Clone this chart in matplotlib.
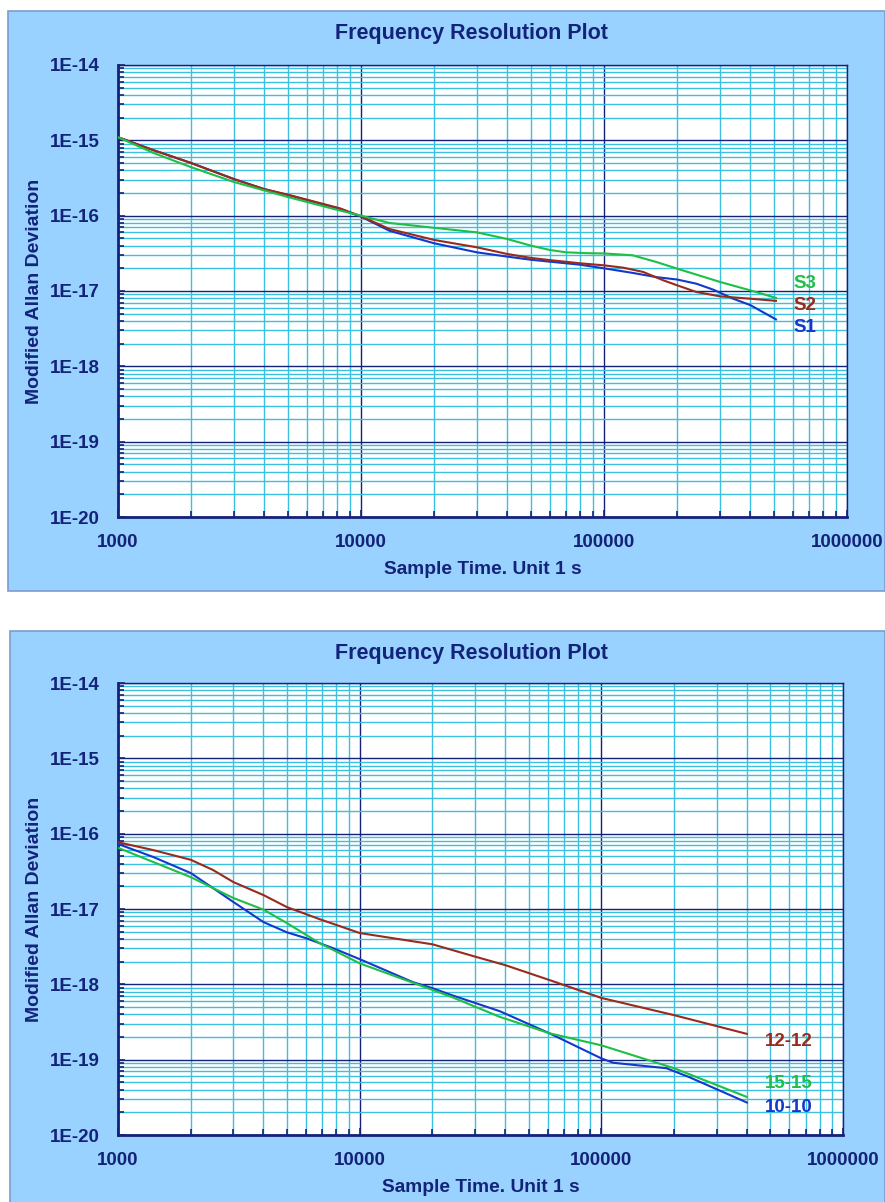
import matplotlib
matplotlib.use('Agg')
import matplotlib.pyplot as plt
from matplotlib.patches import Rectangle
from matplotlib.ticker import LogLocator, FixedLocator, NullFormatter

plt.rcParams['font.family'] = ['Liberation Sans', 'DejaVu Sans']

# top chart
S1_x = [1000, 1400, 2000, 3000, 4000, 5000, 8200, 10000, 13100, 20000, 30000, 40000, 50000,
        60000, 80000, 100000, 131000, 164000, 200000, 240000, 282000, 340000, 400000, 510000]
S1_y = [1.1e-15, 7.4e-16, 5.0e-16, 3.06e-16, 2.25e-16, 1.88e-16, 1.23e-16, 9.7e-17, 6.3e-17,
        4.3e-17, 3.26e-17, 2.86e-17, 2.6e-17, 2.45e-17, 2.23e-17, 2.0e-17, 1.74e-17, 1.53e-17,
        1.42e-17, 1.25e-17, 1.04e-17, 7.9e-18, 6.5e-18, 4.2e-18]
S2_x = [1000, 1400, 2000, 3000, 4000, 5000, 8200, 10000, 13100, 20000, 30000, 40000, 50000,
        60000, 80000, 100000, 120000, 145000, 175000, 200000, 240000, 300000, 400000, 510000]
S2_y = [1.1e-15, 7.4e-16, 5.0e-16, 3.06e-16, 2.25e-16, 1.9e-16, 1.25e-16, 9.8e-17, 6.65e-17,
        4.76e-17, 3.8e-17, 3.1e-17, 2.75e-17, 2.57e-17, 2.33e-17, 2.19e-17, 2.04e-17,
        1.79e-17, 1.39e-17, 1.19e-17, 9.7e-18, 8.5e-18, 7.9e-18, 7.4e-18]
S3_x = [1000, 1400, 2000, 3000, 5000, 7700, 10000, 13100, 20000, 30000, 40000, 50000, 60000,
        70000, 85000, 100000, 131000, 164000, 200000, 300000, 400000, 510000]
S3_y = [1.1e-15, 6.8e-16, 4.4e-16, 2.8e-16, 1.77e-16, 1.23e-16, 1.0e-16, 8.0e-17, 6.9e-17,
        6.0e-17, 4.9e-17, 4.0e-17, 3.5e-17, 3.26e-17, 3.18e-17, 3.15e-17, 2.98e-17, 2.43e-17,
        1.98e-17, 1.32e-17, 1.02e-17, 8.1e-18]

# bottom chart
T12_x = [1000, 1400, 2000, 2470, 3000, 4000, 5000, 6850, 10000, 13700, 20000, 30500, 40000,
         61000, 100000, 200000, 400000]
T12_y = [7.7e-17, 6.05e-17, 4.5e-17, 3.3e-17, 2.28e-17, 1.53e-17, 1.06e-17, 7.3e-18, 4.8e-18,
         4.1e-18, 3.4e-18, 2.3e-18, 1.8e-18, 1.14e-18, 6.6e-19, 3.9e-19, 2.2e-19]
T10_x = [1000, 1400, 2000, 2470, 3000, 4000, 5000, 6000, 7800, 10000, 16600, 20000, 24000,
         38000, 61000, 100000, 112000, 128000, 186000, 230000, 400000]
T10_y = [7.3e-17, 4.9e-17, 3.0e-17, 1.9e-17, 1.24e-17, 6.7e-18, 4.9e-18, 4.1e-18, 3.0e-18,
         2.16e-18, 1.07e-18, 8.9e-19, 7.2e-19, 4.4e-19, 2.24e-19, 1.04e-19, 9.1e-20, 8.7e-20,
         7.7e-20, 5.9e-20, 2.7e-20]
T15_x = [1000, 1400, 2000, 2470, 3000, 4000, 5000, 6850, 10000, 16600, 24000, 38000, 61000,
         100000, 200000, 400000]
T15_y = [6.5e-17, 4.2e-17, 2.65e-17, 1.9e-17, 1.4e-17, 9.8e-18, 6.5e-18, 3.5e-18, 1.9e-18,
         1.05e-18, 6.8e-19, 3.7e-19, 2.24e-19, 1.55e-19, 7.7e-20, 3.2e-20]

x_ticks = [1e3, 1e4, 1e5, 1e6]
x_labels = ['1000', '10000', '100000', '1000000']
y_ticks = [1e-20, 1e-19, 1e-18, 1e-17, 1e-16, 1e-15, 1e-14]
y_labels = ['1E-20', '1E-19', '1E-18', '1E-17', '1E-16', '1E-15', '1E-14']

title = 'Frequency Resolution Plot'
xlab = 'Sample Time. Unit 1 s'
ylab = 'Modified Allan Deviation'

navy = '#14237a'
minor_c = '#3cc0e0'
panel_c = '#99d1ff'
blue = '#1438cc'
brown = '#9a2a1c'
green = '#1fbf45'

W, H = 885, 1202
fig = plt.figure(figsize=(W / 100, H / 100), dpi=100)


def panel(px0, py0, px1, py1, ax_box, series, labels):
    # background box in pixel coords (y from top)
    fig.patches.append(Rectangle((px0 / W, 1 - py1 / H), (px1 - px0) / W, (py1 - py0) / H,
                                 transform=fig.transFigure, facecolor=panel_c,
                                 edgecolor='#7d9ccc', linewidth=1.2, zorder=-10))
    l, t, r, b = ax_box
    ax = fig.add_axes([l / W, 1 - b / H, (r - l) / W, (b - t) / H])
    ax.set_facecolor('white')
    ax.set_xscale('log')
    ax.set_yscale('log')
    ax.set_xlim(1e3, 1e6)
    ax.set_ylim(1e-20, 1e-14)
    ax.xaxis.set_major_locator(FixedLocator(x_ticks))
    ax.yaxis.set_major_locator(FixedLocator(y_ticks))
    ax.xaxis.set_minor_locator(LogLocator(base=10, subs=range(2, 10), numticks=20))
    ax.yaxis.set_minor_locator(LogLocator(base=10, subs=range(2, 10), numticks=20))
    ax.xaxis.set_minor_formatter(NullFormatter())
    ax.yaxis.set_minor_formatter(NullFormatter())
    ax.set_xticklabels(x_labels)
    ax.set_yticklabels(y_labels)
    ax.grid(which='minor', color=minor_c, linewidth=1.0)
    ax.grid(which='major', color=navy, linewidth=1.0)
    ax.set_axisbelow(True)
    ax.tick_params(which='both', direction='in', color=navy, width=1.2)
    ax.tick_params(which='major', length=5)
    ax.tick_params(which='minor', length=4)
    ax.tick_params(axis='x', which='major', pad=12, labelsize=13.5, labelcolor=navy)
    ax.tick_params(axis='y', which='major', pad=13, labelsize=13.5, labelcolor=navy)
    for lab in ax.get_xticklabels() + ax.get_yticklabels():
        lab.set_fontweight('bold')
    for s in ax.spines.values():
        s.set_color(navy)
        s.set_linewidth(1.0)
    ax.spines['left'].set_linewidth(2.0)
    ax.spines['bottom'].set_linewidth(2.0)
    for (xs, ys, c) in series:
        ax.plot(xs, ys, color=c, linewidth=1.5, zorder=3)
    # series names, placed by pixel position inside the axes
    for (txt, lx, ly, c) in labels:
        ax.text((lx - l) / (r - l), (b - ly) / (b - t), txt, transform=ax.transAxes,
                color=c, fontsize=13.5, fontweight='bold', ha='left', va='center',
                zorder=6, clip_on=False)
    fig.text(471 / W, 1 - (py0 + 22) / H, title, color=navy, fontsize=15.5,
             fontweight='bold', ha='center', va='center')
    fig.text((l + r) / 2 / W, 1 - (b + 52) / H, xlab, color=navy, fontsize=13.8,
             fontweight='bold', ha='center', va='center')
    fig.text(35 / W, 1 - (t + b) / 2 / H, ylab, color=navy, fontsize=14,
             fontweight='bold', ha='center', va='center', rotation=90)
    return ax


panel(8, 11, 885, 591, (118, 65, 847, 517),
      [(S1_x, S1_y, blue), (S2_x, S2_y, brown), (S3_x, S3_y, green)],
      [('S3', 793, 283, green), ('S2', 793, 305, brown), ('S1', 793, 327, blue)])

panel(10, 631, 885, 1205, (118, 683, 843, 1135),
      [(T12_x, T12_y, brown), (T10_x, T10_y, blue), (T15_x, T15_y, green)],
      [('12-12', 765, 1041, brown), ('15-15', 765, 1084, green), ('10-10', 765, 1107, blue)])

fig.savefig('out.png', dpi=100)
